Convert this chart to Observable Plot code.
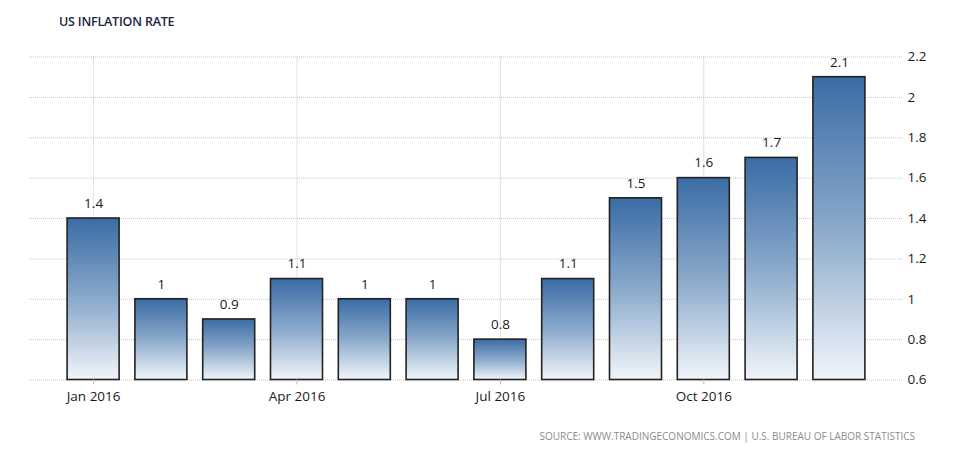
<!DOCTYPE html>
<html><head><meta charset="utf-8">
<script src="https://cdn.jsdelivr.net/npm/d3@7"></script>
<script src="https://cdn.jsdelivr.net/npm/@observablehq/plot@0.6"></script>
<style>
body{margin:0;background:#fff;width:975px;height:454px;overflow:hidden;font-family:"Open Sans",sans-serif;position:relative}
#title{position:absolute;left:59px;top:13px;font-size:12.5px;font-weight:600;color:#1b2440;letter-spacing:-0.2px}
#chart{position:absolute;left:0;top:40px}
#source{position:absolute;right:60px;top:429px;font-size:10px;color:#8c8c8c;letter-spacing:0px}
</style></head><body>
<div id="title">US INFLATION RATE</div>
<div id="chart"></div>
<div id="source">SOURCE: WWW.TRADINGECONOMICS.COM | U.S. BUREAU OF LABOR STATISTICS</div>
<script>
const months = ["Jan","Feb","Mar","Apr","May","Jun","Jul","Aug","Sep","Oct","Nov","Dec"];
const year = 2016;
const rates = [1.4, 1, 0.9, 1.1, 1, 1, 0.8, 1.1, 1.5, 1.6, 1.7, 2.1];
const yTicks = [0.6, 0.8, 1, 1.2, 1.4, 1.6, 1.8, 2, 2.2];
const xTickMonths = ["Jan","Apr","Jul","Oct"];

const data = months.map((m, i) => ({month: m, rate: rates[i]}));
const yMin = yTicks[0], yMax = yTicks[yTicks.length - 1];
const grid = {stroke: "#c4c4c4", strokeDasharray: "1,1", strokeWidth: 1};

const chart = Plot.plot({
  width: 975,
  height: 370,
  marginTop: 16.5,
  marginBottom: 30.5,
  marginLeft: 29,
  marginRight: 72,
  style: {fontFamily: "'Open Sans', sans-serif", color: "#222", background: "#fff"},
  x: {type: "band", domain: months, paddingInner: 0.233, paddingOuter: 0.562, round: false},
  y: {domain: [yMin, yMax]},
  marks: [
    Plot.ruleY(yTicks, {...grid}),
    Plot.ruleX(xTickMonths, {x: d => d, y1: yMin, y2: yMax, ...grid}),
    Plot.barY(data, {x: "month", y1: yMin, y2: "rate", fill: "url(#barGrad)", stroke: "#222", strokeWidth: 1.6}),
    Plot.text(data, {x: "month", y: "rate", text: d => String(d.rate), dy: -15, fontSize: 13.5, fill: "#1a1a1a"}),
    Plot.axisX({ticks: xTickMonths, tickFormat: m => m + " " + year, tickSize: 5, tickPadding: 6, stroke: "#bbb", fontSize: 13.5, fill: "#1a1a1a", label: null}),
    Plot.axisY({anchor: "right", ticks: yTicks, tickSize: 0, tickPadding: 4, tickFormat: d => String(+d.toFixed(1)), fontSize: 13.5, fill: "#1a1a1a", label: null})
  ]
});

const defs = d3.select(chart).insert("defs", ":first-child");
const g = defs.append("linearGradient").attr("id", "barGrad").attr("x1", 0).attr("y1", 0).attr("x2", 0).attr("y2", 1);
g.append("stop").attr("offset", "0%").attr("stop-color", "#3a6ca4");
g.append("stop").attr("offset", "50%").attr("stop-color", "#8aa9cb");
g.append("stop").attr("offset", "100%").attr("stop-color", "#f1f5fa");

document.getElementById("chart").appendChild(chart);
</script>
</body></html>
